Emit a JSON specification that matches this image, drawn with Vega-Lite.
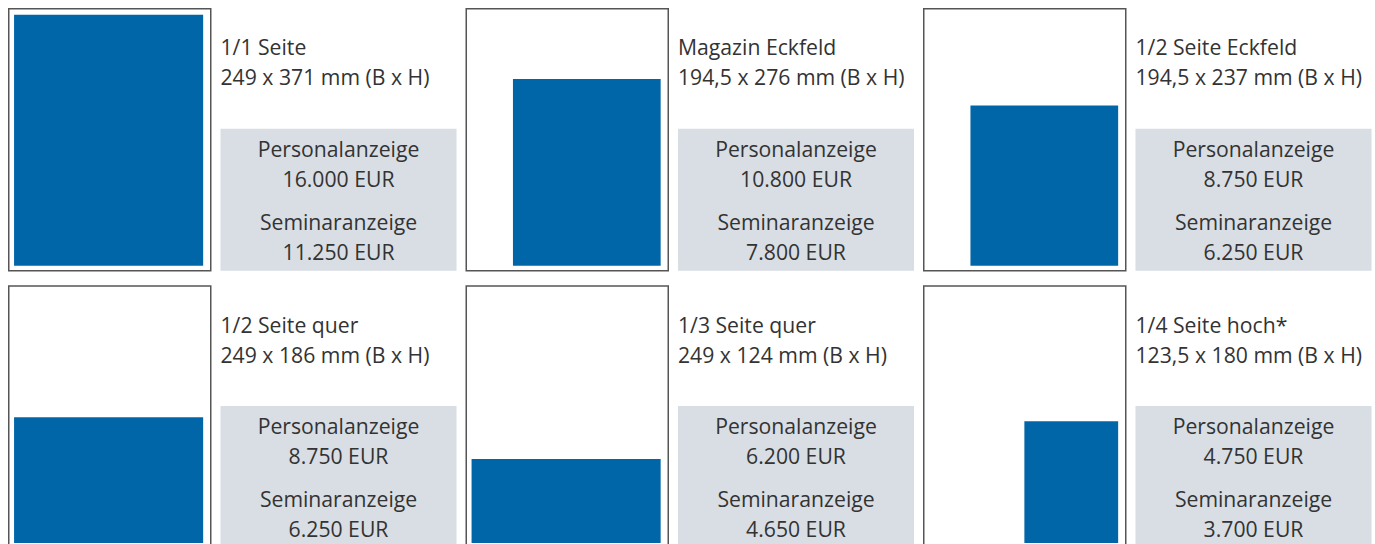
{
  "$schema": "https://vega.github.io/schema/vega-lite/v6.json",
  "padding": {"left": 7.75, "top": 7.75, "right": 0, "bottom": 0},
  "background": "white",
  "datasets": {
    "ads": [
      {"id": 1, "name": "1/1 Seite", "dims": "249 x 371 mm (B x H)", "B": 249, "H": 371},
      {"id": 2, "name": "Magazin Eckfeld", "dims": "194,5 x 276 mm (B x H)", "B": 194.5, "H": 276},
      {"id": 3, "name": "1/2 Seite Eckfeld", "dims": "194,5 x 237 mm (B x H)", "B": 194.5, "H": 237},
      {"id": 4, "name": "1/2 Seite quer", "dims": "249 x 186 mm (B x H)", "B": 249, "H": 186},
      {"id": 5, "name": "1/3 Seite quer", "dims": "249 x 124 mm (B x H)", "B": 249, "H": 124},
      {"id": 6, "name": "1/4 Seite hoch*", "dims": "123,5 x 180 mm (B x H)", "B": 123.5, "H": 180}
    ],
    "prices": [
      {"id": 1, "art": "Personalanzeige", "preis": "16.000 EUR"},
      {"id": 1, "art": "Seminaranzeige", "preis": "11.250 EUR"},
      {"id": 2, "art": "Personalanzeige", "preis": "10.800 EUR"},
      {"id": 2, "art": "Seminaranzeige", "preis": "7.800 EUR"},
      {"id": 3, "art": "Personalanzeige", "preis": "8.750 EUR"},
      {"id": 3, "art": "Seminaranzeige", "preis": "6.250 EUR"},
      {"id": 4, "art": "Personalanzeige", "preis": "8.750 EUR"},
      {"id": 4, "art": "Seminaranzeige", "preis": "6.250 EUR"},
      {"id": 5, "art": "Personalanzeige", "preis": "6.200 EUR"},
      {"id": 5, "art": "Seminaranzeige", "preis": "4.650 EUR"},
      {"id": 6, "art": "Personalanzeige", "preis": "4.750 EUR"},
      {"id": 6, "art": "Seminaranzeige", "preis": "3.700 EUR"}
    ]
  },
  "data": {"name": "ads"},
  "config": {
    "text": {"font": "Open Sans", "fontSize": 21.2, "color": "#333333"}
  },
  "vconcat": [
    {
      "hconcat": [
        {"transform": [{"filter": "datum.id == 1"}], "width": 202, "height": 262, "view": {"stroke": "#555555", "strokeWidth": 1.5},
         "mark": {"type": "rect", "color": "#0066a8"},
         "encoding": {
           "x": {"field": "B", "type": "quantitative", "scale": {"domain": [-10, 256], "reverse": true, "nice": false, "zero": false}, "axis": null},
           "x2": {"datum": 0},
           "y": {"field": "H", "type": "quantitative", "scale": {"domain": [-7.4, 380], "nice": false, "zero": false}, "axis": null},
           "y2": {"datum": 0}}},
        {"spacing": 30, "vconcat": [
          {"transform": [{"filter": "datum.id == 1"}, {"fold": ["name", "dims"], "as": ["zeile", "text"]}], "width": 236, "height": 90, "view": {"stroke": null},
           "mark": {"type": "text", "align": "left", "baseline": "alphabetic", "dy": 16.7},
           "encoding": {
             "x": {"datum": 0, "type": "quantitative", "scale": {"domain": [0, 100]}, "axis": null},
             "y": {"field": "zeile", "type": "nominal", "scale": {"type": "point", "domain": ["name", "dims"], "padding": 1}, "axis": null},
             "text": {"field": "text"}}},
          {"data": {"name": "prices"}, "transform": [{"filter": "datum.id == 1"}], "width": 236, "height": 142, "view": {"stroke": null, "fill": "#d8dee4"},
           "encoding": {"y": {"field": "art", "type": "nominal", "scale": {"type": "point", "domain": ["Personalanzeige", "Seminaranzeige"], "padding": 0.466}, "axis": null}},
           "layer": [
             {"mark": {"type": "text", "align": "center", "baseline": "alphabetic", "dy": -6.25}, "encoding": {"text": {"field": "art"}}},
             {"mark": {"type": "text", "align": "center", "baseline": "alphabetic", "dy": 23.5}, "encoding": {"text": {"field": "preis"}}}
           ]}
        ]},
        {"transform": [{"filter": "datum.id == 2"}], "width": 202, "height": 262, "view": {"stroke": "#555555", "strokeWidth": 1.5},
         "mark": {"type": "rect", "color": "#0066a8"},
         "encoding": {
           "x": {"field": "B", "type": "quantitative", "scale": {"domain": [-10, 256], "reverse": true, "nice": false, "zero": false}, "axis": null},
           "x2": {"datum": 0},
           "y": {"field": "H", "type": "quantitative", "scale": {"domain": [-7.4, 380], "nice": false, "zero": false}, "axis": null},
           "y2": {"datum": 0}}},
        {"spacing": 30, "vconcat": [
          {"transform": [{"filter": "datum.id == 2"}, {"fold": ["name", "dims"], "as": ["zeile", "text"]}], "width": 236, "height": 90, "view": {"stroke": null},
           "mark": {"type": "text", "align": "left", "baseline": "alphabetic", "dy": 16.7},
           "encoding": {
             "x": {"datum": 0, "type": "quantitative", "scale": {"domain": [0, 100]}, "axis": null},
             "y": {"field": "zeile", "type": "nominal", "scale": {"type": "point", "domain": ["name", "dims"], "padding": 1}, "axis": null},
             "text": {"field": "text"}}},
          {"data": {"name": "prices"}, "transform": [{"filter": "datum.id == 2"}], "width": 236, "height": 142, "view": {"stroke": null, "fill": "#d8dee4"},
           "encoding": {"y": {"field": "art", "type": "nominal", "scale": {"type": "point", "domain": ["Personalanzeige", "Seminaranzeige"], "padding": 0.466}, "axis": null}},
           "layer": [
             {"mark": {"type": "text", "align": "center", "baseline": "alphabetic", "dy": -6.25}, "encoding": {"text": {"field": "art"}}},
             {"mark": {"type": "text", "align": "center", "baseline": "alphabetic", "dy": 23.5}, "encoding": {"text": {"field": "preis"}}}
           ]}
        ]},
        {"transform": [{"filter": "datum.id == 3"}], "width": 202, "height": 262, "view": {"stroke": "#555555", "strokeWidth": 1.5},
         "mark": {"type": "rect", "color": "#0066a8"},
         "encoding": {
           "x": {"field": "B", "type": "quantitative", "scale": {"domain": [-10, 256], "reverse": true, "nice": false, "zero": false}, "axis": null},
           "x2": {"datum": 0},
           "y": {"field": "H", "type": "quantitative", "scale": {"domain": [-7.4, 380], "nice": false, "zero": false}, "axis": null},
           "y2": {"datum": 0}}},
        {"spacing": 30, "vconcat": [
          {"transform": [{"filter": "datum.id == 3"}, {"fold": ["name", "dims"], "as": ["zeile", "text"]}], "width": 236, "height": 90, "view": {"stroke": null},
           "mark": {"type": "text", "align": "left", "baseline": "alphabetic", "dy": 16.7},
           "encoding": {
             "x": {"datum": 0, "type": "quantitative", "scale": {"domain": [0, 100]}, "axis": null},
             "y": {"field": "zeile", "type": "nominal", "scale": {"type": "point", "domain": ["name", "dims"], "padding": 1}, "axis": null},
             "text": {"field": "text"}}},
          {"data": {"name": "prices"}, "transform": [{"filter": "datum.id == 3"}], "width": 236, "height": 142, "view": {"stroke": null, "fill": "#d8dee4"},
           "encoding": {"y": {"field": "art", "type": "nominal", "scale": {"type": "point", "domain": ["Personalanzeige", "Seminaranzeige"], "padding": 0.466}, "axis": null}},
           "layer": [
             {"mark": {"type": "text", "align": "center", "baseline": "alphabetic", "dy": -6.25}, "encoding": {"text": {"field": "art"}}},
             {"mark": {"type": "text", "align": "center", "baseline": "alphabetic", "dy": 23.5}, "encoding": {"text": {"field": "preis"}}}
           ]}
        ]}
      ],
      "spacing": 8.75
    },
    {
      "hconcat": [
        {"transform": [{"filter": "datum.id == 4"}], "width": 202, "height": 262, "view": {"stroke": "#555555", "strokeWidth": 1.5},
         "mark": {"type": "rect", "color": "#0066a8"},
         "encoding": {
           "x": {"field": "B", "type": "quantitative", "scale": {"domain": [-10, 256], "reverse": true, "nice": false, "zero": false}, "axis": null},
           "x2": {"datum": 0},
           "y": {"field": "H", "type": "quantitative", "scale": {"domain": [-7.4, 380], "nice": false, "zero": false}, "axis": null},
           "y2": {"datum": 0}}},
        {"spacing": 30, "vconcat": [
          {"transform": [{"filter": "datum.id == 4"}, {"fold": ["name", "dims"], "as": ["zeile", "text"]}], "width": 236, "height": 90, "view": {"stroke": null},
           "mark": {"type": "text", "align": "left", "baseline": "alphabetic", "dy": 16.7},
           "encoding": {
             "x": {"datum": 0, "type": "quantitative", "scale": {"domain": [0, 100]}, "axis": null},
             "y": {"field": "zeile", "type": "nominal", "scale": {"type": "point", "domain": ["name", "dims"], "padding": 1}, "axis": null},
             "text": {"field": "text"}}},
          {"data": {"name": "prices"}, "transform": [{"filter": "datum.id == 4"}], "width": 236, "height": 142, "view": {"stroke": null, "fill": "#d8dee4"},
           "encoding": {"y": {"field": "art", "type": "nominal", "scale": {"type": "point", "domain": ["Personalanzeige", "Seminaranzeige"], "padding": 0.466}, "axis": null}},
           "layer": [
             {"mark": {"type": "text", "align": "center", "baseline": "alphabetic", "dy": -6.25}, "encoding": {"text": {"field": "art"}}},
             {"mark": {"type": "text", "align": "center", "baseline": "alphabetic", "dy": 23.5}, "encoding": {"text": {"field": "preis"}}}
           ]}
        ]},
        {"transform": [{"filter": "datum.id == 5"}], "width": 202, "height": 262, "view": {"stroke": "#555555", "strokeWidth": 1.5},
         "mark": {"type": "rect", "color": "#0066a8"},
         "encoding": {
           "x": {"field": "B", "type": "quantitative", "scale": {"domain": [-10, 256], "reverse": true, "nice": false, "zero": false}, "axis": null},
           "x2": {"datum": 0},
           "y": {"field": "H", "type": "quantitative", "scale": {"domain": [-7.4, 380], "nice": false, "zero": false}, "axis": null},
           "y2": {"datum": 0}}},
        {"spacing": 30, "vconcat": [
          {"transform": [{"filter": "datum.id == 5"}, {"fold": ["name", "dims"], "as": ["zeile", "text"]}], "width": 236, "height": 90, "view": {"stroke": null},
           "mark": {"type": "text", "align": "left", "baseline": "alphabetic", "dy": 16.7},
           "encoding": {
             "x": {"datum": 0, "type": "quantitative", "scale": {"domain": [0, 100]}, "axis": null},
             "y": {"field": "zeile", "type": "nominal", "scale": {"type": "point", "domain": ["name", "dims"], "padding": 1}, "axis": null},
             "text": {"field": "text"}}},
          {"data": {"name": "prices"}, "transform": [{"filter": "datum.id == 5"}], "width": 236, "height": 142, "view": {"stroke": null, "fill": "#d8dee4"},
           "encoding": {"y": {"field": "art", "type": "nominal", "scale": {"type": "point", "domain": ["Personalanzeige", "Seminaranzeige"], "padding": 0.466}, "axis": null}},
           "layer": [
             {"mark": {"type": "text", "align": "center", "baseline": "alphabetic", "dy": -6.25}, "encoding": {"text": {"field": "art"}}},
             {"mark": {"type": "text", "align": "center", "baseline": "alphabetic", "dy": 23.5}, "encoding": {"text": {"field": "preis"}}}
           ]}
        ]},
        {"transform": [{"filter": "datum.id == 6"}], "width": 202, "height": 262, "view": {"stroke": "#555555", "strokeWidth": 1.5},
         "mark": {"type": "rect", "color": "#0066a8"},
         "encoding": {
           "x": {"field": "B", "type": "quantitative", "scale": {"domain": [-10, 256], "reverse": true, "nice": false, "zero": false}, "axis": null},
           "x2": {"datum": 0},
           "y": {"field": "H", "type": "quantitative", "scale": {"domain": [-7.4, 380], "nice": false, "zero": false}, "axis": null},
           "y2": {"datum": 0}}},
        {"spacing": 30, "vconcat": [
          {"transform": [{"filter": "datum.id == 6"}, {"fold": ["name", "dims"], "as": ["zeile", "text"]}], "width": 236, "height": 90, "view": {"stroke": null},
           "mark": {"type": "text", "align": "left", "baseline": "alphabetic", "dy": 16.7},
           "encoding": {
             "x": {"datum": 0, "type": "quantitative", "scale": {"domain": [0, 100]}, "axis": null},
             "y": {"field": "zeile", "type": "nominal", "scale": {"type": "point", "domain": ["name", "dims"], "padding": 1}, "axis": null},
             "text": {"field": "text"}}},
          {"data": {"name": "prices"}, "transform": [{"filter": "datum.id == 6"}], "width": 236, "height": 142, "view": {"stroke": null, "fill": "#d8dee4"},
           "encoding": {"y": {"field": "art", "type": "nominal", "scale": {"type": "point", "domain": ["Personalanzeige", "Seminaranzeige"], "padding": 0.466}, "axis": null}},
           "layer": [
             {"mark": {"type": "text", "align": "center", "baseline": "alphabetic", "dy": -6.25}, "encoding": {"text": {"field": "art"}}},
             {"mark": {"type": "text", "align": "center", "baseline": "alphabetic", "dy": 23.5}, "encoding": {"text": {"field": "preis"}}}
           ]}
        ]}
      ],
      "spacing": 8.75
    }
  ],
  "spacing": 13.2
}
